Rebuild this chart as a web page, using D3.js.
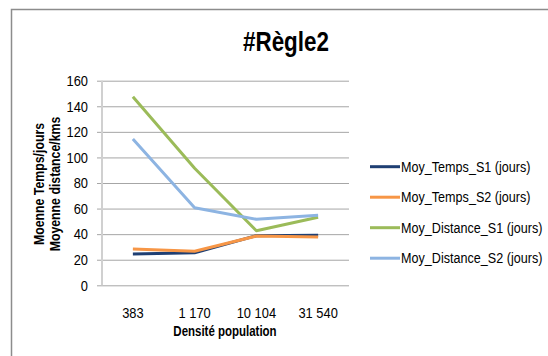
<!DOCTYPE html>
<html>
<head>
<meta charset="utf-8">
<script src="https://cdn.jsdelivr.net/npm/d3@7/dist/d3.min.js"></script>
<style>
  html, body { margin: 0; padding: 0; background: #fff; }
  svg { display: block; }
  text { font-family: "Liberation Sans", Arial, sans-serif; fill: #000; }
</style>
</head>
<body>
<svg id="chart" width="548" height="356"></svg>
<script>
// Population density categories (x axis)
const categories = ["383", "1 170", "10 104", "31 540"];

// Series values
const moyTempsS1 = [24.5, 25.5, 38.8, 39.1];
const moyTempsS2 = [28.4, 26.6, 38.5, 37.8];
const moyDistanceS1 = [147.5, 91.5, 42.7, 53.2];
const moyDistanceS2 = [114.4, 60.7, 51.6, 54.7];

const seriesNames = ["Moy_Temps_S1 (jours)", "Moy_Temps_S2 (jours)", "Moy_Distance_S1 (jours)", "Moy_Distance_S2 (jours)"];
const seriesColors = ["#1F3F73", "#F79646", "#9BBB59", "#8DB4E2"];

const yTicks = [0, 20, 40, 60, 80, 100, 120, 140, 160];

const series = [moyTempsS1, moyTempsS2, moyDistanceS1, moyDistanceS2].map((values, i) => ({
  name: seriesNames[i], color: seriesColors[i], values
}));

// Narrow the glyphs horizontally around each text's anchor point
function condense(sel, k) {
  sel.each(function () {
    const t = d3.select(this);
    const ax = +t.attr("x") || 0;
    const ay = +t.attr("y") || 0;
    t.attr("transform", `translate(${ax},${ay}) scale(${k},1) translate(${-ax},${-ay})`);
  });
}

const svg = d3.select("#chart");

// Chart frame
svg.append("rect")
  .attr("x", 11.5).attr("y", 9.5)
  .attr("width", 560).attr("height", 360)
  .attr("fill", "#fff").attr("stroke", "#8c8c8c").attr("stroke-width", 1.5);

const plot = { left: 102, right: 349, top: 80.7, bottom: 285.3 };

const x = d3.scaleBand().domain(categories).range([plot.left, plot.right]);
const y = d3.scaleLinear().domain([0, 160]).range([plot.bottom, plot.top]);

// Horizontal gridlines with y axis ticks
const yAxis = d3.axisLeft(y)
  .tickValues(yTicks)
  .tickSize(-(plot.right - plot.left + 5))
  .tickFormat(d3.format("d"));

const gy = svg.append("g")
  .attr("transform", `translate(${plot.left - 5},0)`)
  .call(yAxis);
gy.select(".domain").remove();
gy.selectAll(".tick line")
  .attr("stroke", "#a6a6a6").attr("stroke-width", 1);
gy.selectAll(".tick text")
  .attr("x", -9)
  .style("font-family", "Liberation Sans, sans-serif")
  .style("font-size", "15px").attr("fill", "#000")
  .call(condense, 0.86);

// Vertical axis line
svg.append("line")
  .attr("x1", plot.left).attr("x2", plot.left)
  .attr("y1", plot.top).attr("y2", plot.bottom)
  .attr("stroke", "#d0d0d0").attr("stroke-width", 2);

// X axis labels
const xAxis = d3.axisBottom(x).tickSize(0).tickPadding(22);
const gx = svg.append("g")
  .attr("transform", `translate(0,${plot.bottom})`)
  .call(xAxis);
gx.select(".domain").remove();
gx.selectAll(".tick text")
  .style("font-family", "Liberation Sans, sans-serif")
  .style("font-size", "15px").attr("fill", "#000")
  .call(condense, 0.86);

// Lines
const line = d3.line()
  .x((d, i) => x(categories[i]) + x.bandwidth() / 2)
  .y(d => y(d));

svg.append("g").selectAll("path")
  .data(series)
  .join("path")
  .attr("d", d => line(d.values))
  .attr("fill", "none")
  .attr("stroke", d => d.color)
  .attr("stroke-width", 3)
  .attr("stroke-linejoin", "round");

// Title
svg.append("text")
  .attr("x", 286).attr("y", 51.5)
  .attr("text-anchor", "middle")
  .style("font-weight", "bold")
  .style("font-size", "27px")
  .text("#Règle2")
  .call(condense, 0.83);

// Axis titles
svg.append("text")
  .attr("x", 225).attr("y", 336.5)
  .attr("text-anchor", "middle")
  .style("font-weight", "bold")
  .style("font-size", "14px")
  .text("Densité population")
  .call(condense, 0.82);

const yTitle = svg.append("text")
  .attr("transform", "translate(0,184) rotate(-90) scale(0.88,1)")
  .attr("text-anchor", "middle")
  .style("font-weight", "bold")
  .style("font-size", "14px");
yTitle.append("tspan").attr("x", 0).attr("y", 44).text("Moenne Temps/jours");
yTitle.append("tspan").attr("x", 0).attr("y", 60).text("Moyenne distance/kms");

// Legend
const legend = svg.append("g").selectAll("g")
  .data(series)
  .join("g")
  .attr("transform", (d, i) => `translate(370,${166.7 + i * 30.5})`);
legend.append("line")
  .attr("x1", 0).attr("x2", 30)
  .attr("stroke", d => d.color).attr("stroke-width", 3);
legend.append("text")
  .attr("x", 31).attr("y", 0).attr("dy", "0.35em")
  .style("font-size", "15px")
  .text(d => d.name)
  .call(condense, 0.84);
</script>
</body>
</html>
